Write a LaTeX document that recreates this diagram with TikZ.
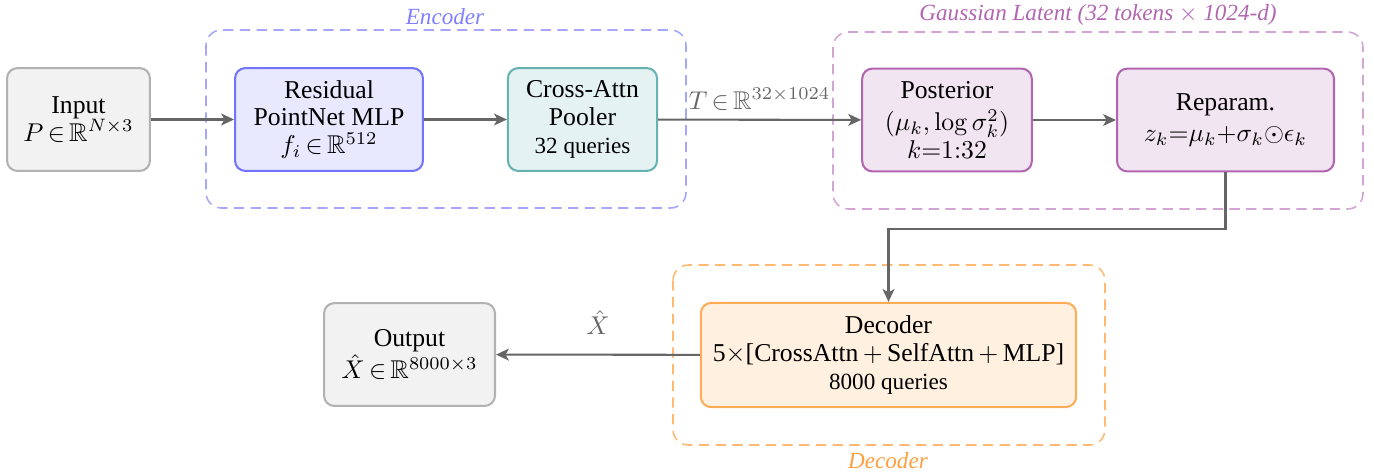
\documentclass[tikz,border=0pt]{standalone}
\usepackage[no-math]{fontspec}
\setmainfont{LiberationSerif}[Extension=.ttf,UprightFont=*-Regular,ItalicFont=*-Italic,BoldFont=*-Bold,BoldItalicFont=*-BoldItalic]
\usepackage{amssymb,amsmath}
\usetikzlibrary{arrows.meta}

\begin{document}
\begin{tikzpicture}[x=0.389pt,y=-0.389pt,>={Stealth[length=5pt,width=4.6pt,inset=1.3pt]},
  box/.style={draw,thick,rounded corners=4pt,align=center,minimum height=40pt,inner sep=2pt,
    execute at begin node=\setlength{\baselineskip}{10.8pt}},
  group/.style={line width=0.6pt,dash pattern=on 4pt off 2.5pt,rounded corners=6pt},
  grouplabel/.style={font=\small\itshape},
  flow/.style={thick,->,black!60}]

\useasboundingbox (0,0) rectangle (1374,475);

\draw[group,blue!35] (206,30) rectangle (686,208);
\node[grouplabel,blue!50] (enclabel) at (445,17) {Encoder};

\draw[group,violet!35] (833,32) rectangle (1363,209);
\node[grouplabel,violet!60] (latlabel) at (1098,15) {Gaussian Latent (32 tokens $\times$ 1024-d)};

\draw[group,orange!55] (673,265) rectangle (1105,445);
\node[grouplabel,orange!75] (declabel) at (888,461) {Decoder};

\node[box,draw=gray!60,fill=gray!10,minimum width=55.6pt] (input) at (78.5,119.5)
  {Input\\$P\,{\in}\,\mathbb{R}^{N\times 3}$};
\node[box,draw=blue!55,fill=blue!9,minimum width=73.1pt] (pointnet) at (329,119.5)
  {Residual\\PointNet MLP\\$f_i\,{\in}\,\mathbb{R}^{512}$};
\node[box,draw=teal!60,fill=teal!10,minimum width=58pt] (pooler) at (582.5,119.5)
  {Cross-Attn\\Pooler\\{\small 32 queries}};
\node[box,draw=violet!60,fill=violet!10,minimum width=66pt] (posterior) at (947,120)
  {Posterior\\[1.5pt]$(\mu_k,\log\sigma_k^2)$\\$k{=}1{:}32$};
\node[box,draw=violet!60,fill=violet!10,minimum width=84.4pt] (reparam) at (1225.5,120)
  {Reparam.\\[1.5pt]$z_k{=}\mu_k{+}\sigma_k{\odot}\epsilon_k$};
\node[box,draw=orange!65,fill=orange!12,minimum width=146pt,minimum height=40.5pt] (decoder) at (888.5,355)
  {Decoder\\5$\times$[CrossAttn$\,+\,$SelfAttn$\,+\,$MLP]\\{\small 8000 queries}};
\node[box,draw=gray!60,fill=gray!10,minimum width=66.5pt] (output) at (409.5,354.5)
  {Output\\$\hat{X}\,{\in}\,\mathbb{R}^{8000\times 3}$};

\draw[flow] (input) -- (pointnet);
\draw[flow] (pointnet) -- (pooler);
\draw[flow] (pooler) -- node[above,black!60] {$T\,{\in}\,\mathbb{R}^{32\times 1024}$} (posterior);
\draw[flow] (posterior) -- (reparam);
\draw[flow] (reparam.south) -- ++(0,57) -| (decoder.north);
\draw[flow] (decoder) -- node[above=4pt,black!60] {$\hat{X}$} (output);

\end{tikzpicture}
\end{document}
